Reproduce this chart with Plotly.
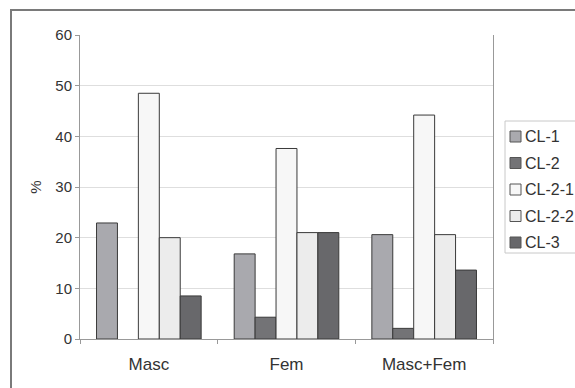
import plotly.graph_objects as go

categories = ["Masc", "Fem", "Masc+Fem"]
series_names = ["CL-1", "CL-2", "CL-2-1", "CL-2-2", "CL-3"]
cl1 = [22.9, 16.8, 20.6]
cl2 = [None, 4.3, 2.1]
cl21 = [48.5, 37.6, 44.2]
cl22 = [20.0, 21.0, 20.6]
cl3 = [8.5, 21.0, 13.6]
series_values = [cl1, cl2, cl21, cl22, cl3]
colors = ["#a9a9ae", "#737376", "#f7f7f7", "#ececec", "#68686b"]
y_ticks = [0, 10, 20, 30, 40, 50, 60]

W, H = 575, 388
plot_left, plot_right, plot_top, plot_bottom = 80, 493, 35, 339
ml, mt = plot_left, plot_top
mr, mb = W - plot_right, H - plot_bottom
pw = W - ml - mr
ph = H - mt - mb


def px_x(x):
    return (x - plot_left) / pw


def px_y(y):
    return (plot_bottom - y) / ph


fig = go.Figure()
for name, vals, col in zip(series_names, series_values, colors):
    fig.add_trace(go.Bar(
        x=categories, y=vals, name=name,
        marker=dict(color=col, line=dict(color="#3a3a3a", width=1)),
    ))

fig.update_layout(
    width=W, height=H, autosize=False,
    margin=dict(l=ml, r=mr, t=mt, b=mb, autoexpand=False),
    paper_bgcolor="white", plot_bgcolor="white",
    barmode="group", bargap=0.24, bargroupgap=0,
    font=dict(family="Liberation Sans, Arial, sans-serif", size=15, color="#333333"),
    showlegend=False,
)
fig.update_xaxes(
    type="category", showline=True, linecolor="#999999", linewidth=1,
    ticks="outside", tickson="boundaries", ticklen=4, tickcolor="#999999",
    tickfont=dict(size=17, color="#333333"), showgrid=False,
    ticklabelstandoff=10,
)
fig.update_yaxes(
    range=[0, 60], tickvals=y_ticks, showline=True, linecolor="#999999",
    linewidth=1, mirror=True, ticks="outside", ticklen=4, tickcolor="#999999",
    gridcolor="#dedede", gridwidth=1, zeroline=False,
    tickfont=dict(size=15, color="#333333"),
    title=dict(text="%", font=dict(size=15, color="#333333"), standoff=10),
)
# outer chart border (left and top visible)
fig.add_shape(
    type="rect", xref="paper", yref="paper",
    x0=px_x(11), x1=px_x(600), y0=px_y(410), y1=px_y(10),
    line=dict(color="#7a7a7a", width=2), fillcolor="rgba(0,0,0,0)", layer="below",
)
# legend box
fig.add_shape(
    type="rect", xref="paper", yref="paper",
    x0=px_x(505), x1=px_x(600), y0=px_y(253), y1=px_y(121),
    line=dict(color="#c8c8c8", width=1), fillcolor="white",
)
leg_y0, leg_dy = 136.5, 26.5
for i, (name, col) in enumerate(zip(series_names, colors)):
    cy = leg_y0 + i * leg_dy
    fig.add_shape(
        type="rect", xref="paper", yref="paper",
        x0=px_x(510), x1=px_x(521), y0=px_y(cy + 5.5), y1=px_y(cy - 5.5),
        line=dict(color="#555555", width=1), fillcolor=col,
    )
    fig.add_annotation(
        xref="paper", yref="paper", x=px_x(523), y=px_y(cy),
        xanchor="left", yanchor="middle", text=name, showarrow=False,
        font=dict(size=16, color="#333333"),
    )

fig.write_html(
    "out.html",
    default_width="575px", default_height="388px",
    config={"displayModeBar": False},
    post_script="document.body.style.margin='0';document.body.style.overflow='hidden';",
)
